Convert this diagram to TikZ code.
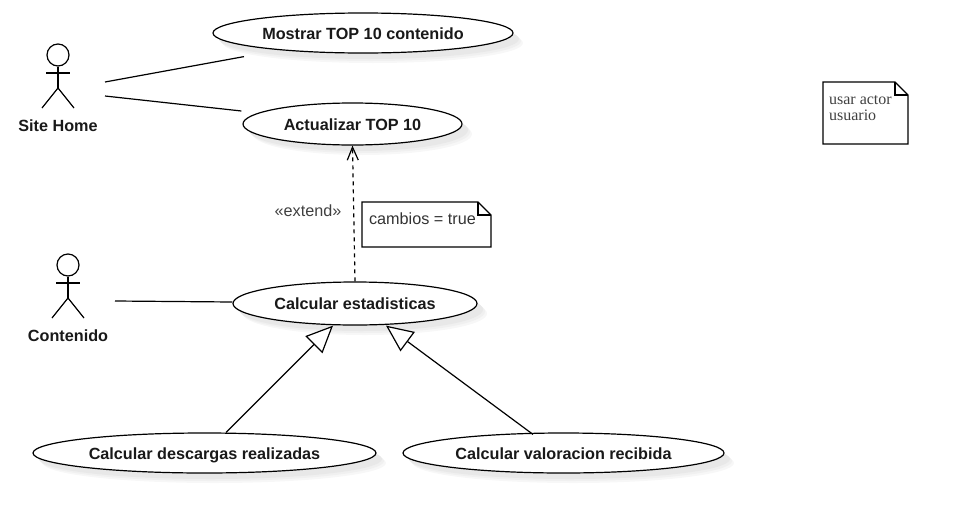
\documentclass[tikz,border=0pt]{standalone}
\usepackage{fontspec}
\setmainfont{Liberation Sans}
\newfontfamily\notefont{Liberation Serif}
\usetikzlibrary{arrows.meta,shapes.geometric,shadows}
\begin{document}
\begin{tikzpicture}[
    x=1pt, y=-1pt,
    line width=1.2pt,
    usecase/.style={ellipse, draw, fill=white, inner sep=0pt, minimum height=42pt,
        font=\fontsize{16.2}{18}\selectfont\bfseries, text=black!90, text height=12pt, text depth=0pt,
        drop shadow={shadow xshift=10pt, shadow yshift=-10pt, fill=black!3, opacity=1},
        drop shadow={shadow xshift=8pt, shadow yshift=-8pt, fill=black!6, opacity=1},
        drop shadow={shadow xshift=6pt, shadow yshift=-6pt, fill=black!9, opacity=1}},
    actorlabel/.style={font=\fontsize{16.2}{18}\selectfont\bfseries, text=black!90},
    actorhead/.style={circle, draw, inner sep=0pt, minimum size=22pt},
    notebox/.style={anchor=north west, inner xsep=6.5pt, inner ysep=10pt, align=left},
    assoc/.style={line width=1.2pt},
    extendarrow/.style={dash pattern=on 4pt off 4pt, -{Straight Barb[length=13pt, width=11pt]}},
    genarrow/.style={-{Triangle[open, fill=white, length=27pt, width=24pt]}},
]
\useasboundingbox (0,0) rectangle (958,525);

% Casos de uso
\node[usecase, minimum width=300pt, minimum height=40pt] (mostrar) at (363,33) {Mostrar TOP 10 contenido};
\node[usecase, minimum width=219pt] (actualizar) at (352.5,124) {Actualizar TOP 10};
\node[usecase, minimum width=244pt, minimum height=43pt] (estadisticas) at (355,303.5) {Calcular estadisticas};
\node[usecase, minimum width=343pt, minimum height=40pt] (descargas) at (204.5,453) {Calcular descargas realizadas};
\node[usecase, minimum width=321pt, minimum height=40pt] (valoracion) at (563.5,453) {Calcular valoracion recibida};

% Actor Site Home
\node[actorhead] (homeHead) at (58,55) {};
\coordinate (homeHip) at (58,88);
\draw (homeHead.south) -- (homeHip);
\draw (46,73) -- (70,73);
\draw (42,108) -- (homeHip) -- (74,108);
\node[actorlabel] (homeLabel) at (58,126) {Site Home};

% Actor Contenido
\begin{scope}[shift={(10,210)}]
    \node[actorhead] (contHead) at (58,55) {};
    \coordinate (contHip) at (58,88);
    \draw (contHead.south) -- (contHip);
    \draw (46,73) -- (70,73);
    \draw (42,108) -- (contHip) -- (74,108);
    \node[actorlabel] (contLabel) at (58,126) {Contenido};
\end{scope}

% Asociaciones
\coordinate (homeOut1) at (105,82);
\coordinate (homeOut2) at (105,96);
\coordinate (contOut) at (115,301);
\draw[assoc] (homeOut1) -- ([xshift=-119pt, yshift=-3pt]mostrar.south);
\draw[assoc] (homeOut2) -- ([xshift=-1pt, yshift=13pt]actualizar.west);
\draw[assoc] (contOut) -- ([yshift=1.5pt]estadisticas.west);

% Extend
\draw[extendarrow] (estadisticas.north) -- (actualizar.south);
\node[font=\fontsize{16.2}{18}\selectfont, text=black!75] (extendLabel) at (308,211) {«extend»};

% Generalizaciones
\draw[genarrow] ([xshift=21.5pt]descargas.north) -- ([xshift=-22pt, yshift=0pt]estadisticas.south);
\draw[genarrow] ([xshift=-30.5pt, yshift=-2pt]valoracion.north) -- ([xshift=31pt, yshift=0pt]estadisticas.south);

% Notas
\draw (362,202) coordinate (cambiosNW) -- (478,202) -- (491,215) -- (491,247) -- (362,247) -- cycle;
\draw (478,202) -- (478,215) -- (491,215);
\node[notebox, font=\fontsize{16.2}{16}\selectfont, text=black!80] (cambiosNote) at (cambiosNW) {cambios = true};

\draw (823,82) coordinate (usarNW) -- (895,82) -- (908,95) -- (908,144) -- (823,144) -- cycle;
\draw (895,82) -- (895,95) -- (908,95);
\node[notebox, font=\fontsize{16}{16}\notefont\selectfont, text=black!75, inner xsep=5.5pt, inner ysep=12.5pt] (usarNote) at (usarNW) {usar actor\\usuario};

\end{tikzpicture}
\end{document}
